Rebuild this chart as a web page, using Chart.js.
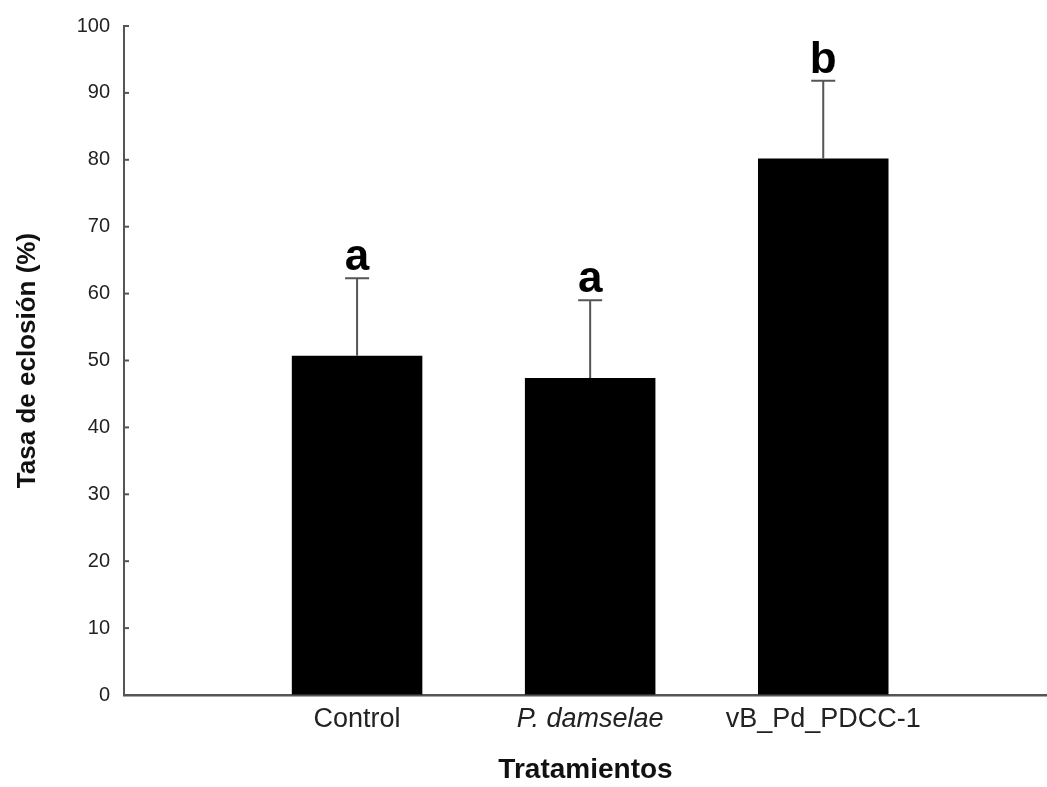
<!DOCTYPE html>
<html>
<head>
<meta charset="utf-8">
<script src="https://cdn.jsdelivr.net/npm/chart.js@4"></script>
<style>
  body { margin: 0; background: #fff; }
  #wrap { width: 1047px; height: 787px; position: relative; }
</style>
</head>
<body>
<div id="wrap"><canvas id="bar-chart"></canvas></div>
<script>
const ctx = document.getElementById("bar-chart");

// data
const categories = ['Control', 'P. damselae', 'vB_Pd_PDCC-1'];
const positions = [1, 2, 3];
const means = [50.7, 47.4, 80.2];
const errors = [11.6, 11.6, 11.6];
const letters = ['a', 'a', 'b'];
const yTicks = [0, 10, 20, 30, 40, 50, 60, 70, 80, 90, 100];

const FONT = "'Liberation Sans', Arial, sans-serif";

// error bars (upper only), letters and inner tick marks
const extras = {
    id: 'extras',
    afterDatasetsDraw(chart) {
        const c = chart.ctx;
        const x = chart.scales.x;
        const y = chart.scales.y;
        c.save();
        c.strokeStyle = '#555';
        c.lineWidth = 2;
        means.forEach((m, i) => {
            const px = x.getPixelForValue(positions[i]);
            const top = y.getPixelForValue(m + errors[i]);
            const base = y.getPixelForValue(m);
            c.beginPath();
            c.moveTo(px, base);
            c.lineTo(px, top);
            c.moveTo(px - 12, top);
            c.lineTo(px + 12, top);
            c.stroke();

            c.fillStyle = '#000';
            c.font = 'bold 44px ' + FONT;
            c.textAlign = 'center';
            c.textBaseline = 'alphabetic';
            c.fillText(letters[i], px, top - 8);
        });
        // small ticks on the inside of the y axis
        c.lineWidth = 2;
        yTicks.forEach(v => {
            const py = y.getPixelForValue(v);
            c.beginPath();
            c.moveTo(y.right, py);
            c.lineTo(y.right + 5, py);
            c.stroke();
        });
        c.restore();
    }
};

const chartData = {
    datasets: [{
        data: positions.map((p, i) => ({ x: p, y: means[i] })),
        backgroundColor: '#000',
        borderWidth: 0,
        barPercentage: 0.56,
        categoryPercentage: 1,
    }]
};

const config = {
    type: 'bar',
    data: chartData,
    options: {
        responsive: true,
        maintainAspectRatio: false,
        animation: false,
        layout: { padding: { top: 24, right: 0, left: 0, bottom: 0 } },
        plugins: {
            legend: { display: false },
            tooltip: { enabled: false }
        },
        scales: {
            x: {
                type: 'linear',
                offset: false,
                min: 0,
                max: 3.96,
                afterBuildTicks: s => { s.ticks = positions.map(v => ({ value: v })); },
                afterFit: s => { s.height = 92; },
                grid: { display: false, drawTicks: false, offset: false },
                border: { display: true, color: '#555', width: 2.5 },
                ticks: {
                    color: '#222',
                    padding: 8,
                    callback: v => categories[positions.indexOf(v)] || '',
                    font: c => ({
                        family: FONT,
                        size: 27,
                        style: c.index === 1 ? 'italic' : 'normal'
                    })
                },
                title: {
                    display: true,
                    text: 'Tratamientos',
                    color: '#111',
                    padding: { top: 0, bottom: 0 },
                    font: { family: FONT, size: 28, weight: 'bold' }
                }
            },
            y: {
                min: 0,
                max: 100,
                afterBuildTicks: s => { s.ticks = yTicks.map(v => ({ value: v })); },
                afterFit: s => { s.width = 124; },
                grid: { drawOnChartArea: false, drawTicks: false },
                border: { display: true, color: '#555', width: 2 },
                ticks: {
                    color: '#222',
                    padding: 14,
                    font: { family: FONT, size: 20 }
                },
                title: {
                    display: true,
                    text: 'Tasa de eclosión (%)',
                    color: '#111',
                    padding: { top: 12, bottom: 0 },
                    font: { family: FONT, size: 26, weight: 'bold' }
                }
            }
        }
    },
    plugins: [extras]
};

const chart = new Chart(ctx, config);
</script>
</body>
</html>
